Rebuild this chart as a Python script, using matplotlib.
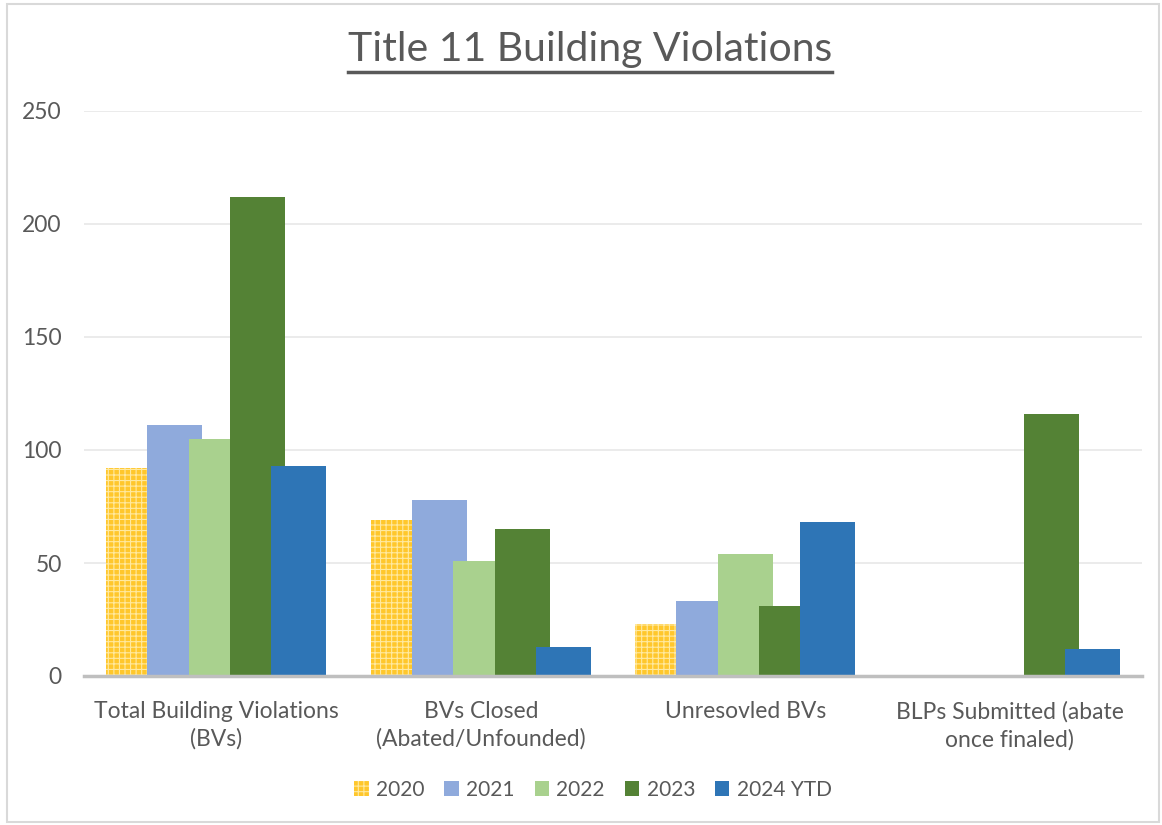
import matplotlib
matplotlib.use("Agg")
import matplotlib.pyplot as plt
import numpy as np
from matplotlib.patches import Rectangle

plt.rcParams['font.family'] = ['Lato', 'DejaVu Sans']
plt.rcParams['hatch.linewidth'] = 0.8

categories = ["Total Building Violations\n(BVs)", "BVs Closed\n(Abated/Unfounded)",
              "Unresovled BVs", "BLPs Submitted (abate\nonce finaled)"]
series_names = ["2020", "2021", "2022", "2023", "2024 YTD"]
v2020 = [92, 69, 23, 0]
v2021 = [111, 78, 33, 0]
v2022 = [105, 51, 54, 0]
v2023 = [212, 65, 31, 116]
v2024 = [93, 13, 68, 12]
yticks = [0, 50, 100, 150, 200, 250]

series = [v2020, v2021, v2022, v2023, v2024]
colors = ["#FFC000", "#8FAADC", "#A9D18E", "#548235", "#2E75B6"]

fig = plt.figure(figsize=(11.62, 8.25), dpi=100)
ax = fig.add_axes([84/1162, 1-676/825, (1142-84)/1162, (676-111)/825])

x = np.arange(len(categories))
step = 41.3/264.5
width = 55/264.5
offsets = (np.arange(5) - 2) * step
tc = "#595959"
for i, (vals, c) in enumerate(zip(series, colors)):
    if i == 0:
        ax.bar(x + offsets[i], vals, width=width, color="#FFC72C", edgecolor="#FFE9A0",
               linewidth=0, hatch="+++", label=series_names[i], zorder=2 + i)
    else:
        ax.bar(x + offsets[i], vals, width=width, color=c, linewidth=0,
               label=series_names[i], zorder=2 + i)

ax.set_xlim(-0.5, len(categories) - 0.5)
ax.set_ylim(0, 250)
ax.set_yticks(yticks)
ax.set_yticklabels([str(t) for t in yticks], color=tc, fontsize=16.5)
ax.set_xticks(x)
ax.set_xticklabels(categories, color=tc, fontsize=16.5, linespacing=1.35)
ax.tick_params(axis='both', length=0)
ax.tick_params(axis='y', pad=16)
ax.tick_params(axis='x', pad=18)
ax.grid(axis='y', color="#E8E8E8", linewidth=1.2, zorder=0)
ax.set_axisbelow(True)
for s in ['top', 'right', 'left']:
    ax.spines[s].set_visible(False)
ax.spines['bottom'].set_color("#BFBFBF")
ax.spines['bottom'].set_linewidth(2.5)
ax.spines['bottom'].set_zorder(10)

title = fig.text(590/1162, 1-50/825, "Title 11 Building Violations", ha='center', va='center',
                 fontsize=29.5, color=tc)
fig.canvas.draw()
bb = title.get_window_extent(fig.canvas.get_renderer()).transformed(fig.transFigure.inverted())
fig.add_artist(plt.Line2D([bb.x0, bb.x1], [1-72/825, 1-72/825], color=tc,
                          linewidth=2.5, transform=fig.transFigure))

leg = ax.legend(loc='center', bbox_to_anchor=(593/1162, 1-790/825),
                bbox_transform=fig.transFigure, ncol=5, frameon=False,
                fontsize=15, handlelength=0.7, handleheight=0.7, columnspacing=0.95,
                handletextpad=0.35)
for t in leg.get_texts():
    t.set_color(tc)

fig.add_artist(Rectangle((7/1162, 3/825), 1152/1162, 818/825, transform=fig.transFigure,
                         fill=False, edgecolor="#D9D9D9", linewidth=1.5))

fig.savefig("out.png", dpi=100)
